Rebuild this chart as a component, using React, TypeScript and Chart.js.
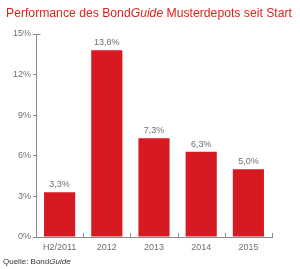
import React, { useEffect, useRef } from "react";
import { Chart, registerables } from "chart.js";

Chart.register(...registerables);

const categories = ["H2/2011", "2012", "2013", "2014", "2015"];
const performance = [3.3, 13.8, 7.3, 6.3, 5.0];
const yTicks = [0, 3, 6, 9, 12, 15];

const RED = "#d71a21";
const GRAY = "#6f6f72";
const AXIS = "#8a8a8a";
const FONT = "'Liberation Sans', Arial, Helvetica, sans-serif";

const valueLabels = {
  id: "valueLabels",
  afterDatasetsDraw(chart: any) {
    const ctx = chart.ctx;
    const meta = chart.getDatasetMeta(0);
    ctx.save();
    ctx.fillStyle = GRAY;
    ctx.font = `9px ${FONT}`;
    ctx.textAlign = "center";
    ctx.textBaseline = "alphabetic";
    meta.data.forEach((bar: any, i: number) => {
      const v = performance[i];
      ctx.fillText(v.toFixed(1).replace(".", ",") + "%", bar.x, bar.y - 5);
    });
    ctx.restore();
  },
};

const upTicks = {
  id: "upTicks",
  afterDraw(chart: any) {
    const ctx = chart.ctx;
    const xs = chart.scales.x;
    const bottom = chart.chartArea.bottom;
    ctx.save();
    ctx.strokeStyle = AXIS;
    ctx.lineWidth = 1;
    for (let i = 0; i < categories.length; i++) {
      const c = xs.getPixelForValue(i);
      const next = i < categories.length - 1 ? xs.getPixelForValue(i + 1) : c + (c - xs.getPixelForValue(i - 1));
      const b = Math.round((c + next) / 2) + 0.5;
      ctx.beginPath();
      ctx.moveTo(b, bottom);
      ctx.lineTo(b, bottom - 4);
      ctx.stroke();
    }
    // small top tick on y axis
    const ys = chart.scales.y;
    const top = Math.round(ys.getPixelForValue(15)) + 0.5;
    const left = Math.round(chart.chartArea.left) + 0.5;
    ctx.beginPath();
    ctx.moveTo(left, top);
    ctx.lineTo(left + 4, top);
    ctx.stroke();
    ctx.restore();
  },
};

export default function App() {
  const ref = useRef<HTMLCanvasElement>(null);

  useEffect(() => {
    document.body.style.margin = "0";
    const chart = new Chart(ref.current!, {
      type: "bar",
      data: {
        labels: categories,
        datasets: [
          {
            data: performance,
            backgroundColor: RED,
            borderWidth: 0,
            barPercentage: 0.66,
            categoryPercentage: 1,
          },
        ],
      },
      options: {
        animation: false,
        responsive: false,
        maintainAspectRatio: false,
        devicePixelRatio: 1,
        layout: { padding: { left: 0, top: 34, right: 28, bottom: 0 } },
        plugins: {
          legend: { display: false },
          tooltip: { enabled: false },
          title: { display: false },
        },
        scales: {
          x: {
            offset: true,
            grid: { display: false, drawOnChartArea: false, drawTicks: false },
            border: { display: true, color: AXIS, width: 1 },
            ticks: { color: GRAY, font: { family: FONT, size: 9 }, padding: 5, maxRotation: 0, autoSkip: false },
            afterFit: (s: any) => {
              s.height = 32;
            },
          },
          y: {
            min: 0,
            max: 15,
            afterBuildTicks: (s: any) => {
              s.ticks = yTicks.map((v) => ({ value: v }));
            },
            grid: { drawOnChartArea: false, drawTicks: true, tickLength: 3, color: AXIS },
            border: { display: true, color: AXIS, width: 1 },
            ticks: {
              color: GRAY,
              font: { family: FONT, size: 9 },
              padding: 2,
              callback: (v: any) => v + "%",
            },
            afterFit: (s: any) => {
              s.width = 36;
            },
          },
        },
      },
      plugins: [valueLabels, upTicks],
    });
    return () => chart.destroy();
  }, []);

  return (
    <div style={{ position: "relative", width: 300, height: 269, background: "#fff", overflow: "hidden" }}>
      <canvas ref={ref} width={300} height={269} style={{ position: "absolute", left: 0, top: 0 }} />
      <div
        style={{
          position: "absolute",
          left: 6,
          top: 5,
          fontFamily: FONT,
          fontSize: 12.2,
          color: "#e2231a",
          whiteSpace: "nowrap",
          lineHeight: "16px",
        }}
      >
        Performance des Bond<i>Guide</i> Musterdepots seit Start
      </div>
      <div
        style={{
          position: "absolute",
          left: 3,
          top: 257,
          fontFamily: FONT,
          fontSize: 8,
          color: "#333",
          whiteSpace: "nowrap",
          lineHeight: "10px",
        }}
      >
        Quelle: Bond<i>Guide</i>
      </div>
    </div>
  );
}
